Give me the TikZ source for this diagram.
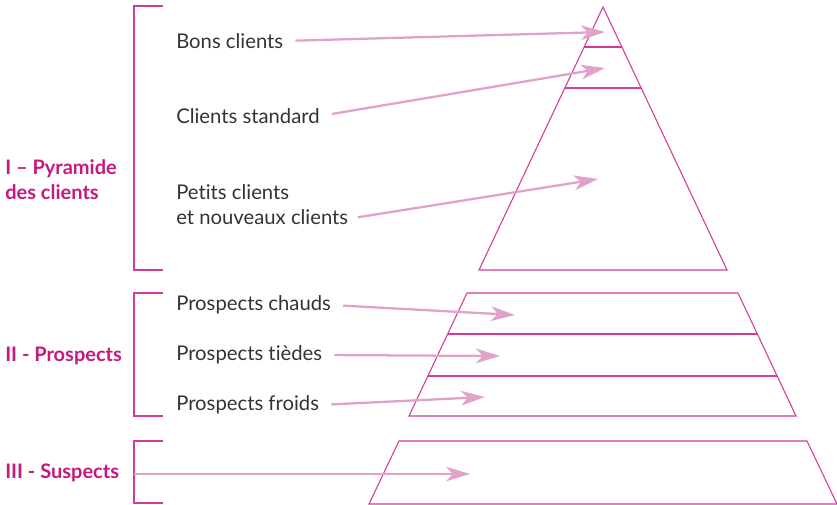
\documentclass[tikz,border=0pt]{standalone}
\usepackage{fontspec}
\setmainfont[Ligatures={NoCommon}]{Lato}
\usetikzlibrary{arrows.meta}
\definecolor{pyrline}{HTML}{D63A98}
\definecolor{arrpink}{HTML}{E0A2C8}
\definecolor{secpink}{HTML}{C8187E}
\definecolor{txtgray}{HTML}{333333}
\begin{document}
\begin{tikzpicture}[x=0.75pt, y=-0.75pt,
    lbl/.style={anchor=west, text=txtgray, inner sep=0pt, align=left,
        font=\fontsize{15.2}{18.75}\selectfont},
    sec/.style={anchor=west, text=secpink, inner sep=0pt, align=left,
        font=\fontsize{15}{18.75}\selectfont\bfseries},
    shp/.style={draw=pyrline, line width=0.8pt},
    arr/.style={draw=arrpink, line width=1.7pt,
        -{Stealth[length=18pt, width=11pt, inset=5pt]}}
]

    \useasboundingbox (0,0) rectangle (837,505);

    % brackets
    \draw[shp] (163,6) -- (134,6) -- (134,270) -- (163,270);
    \draw[shp] (163,293) -- (134,293) -- (134,416) -- (163,416);
    \draw[shp] (163,441) -- (134,441) -- (134,503) -- (163,503);

    % section labels
    \node[sec] (secI) at (5,180) {I -- Pyramide\\des clients};
    \node[sec] (secII) at (5,356) {II - Prospects};
    \node[sec] (secIII) at (5,473) {III - Suspects};

    % pyramid of clients
    \draw[shp] (603,7) -- (727,270) -- (479,270) -- cycle;
    \draw[shp] (584,47) -- (622,47);
    \draw[shp] (565,88) -- (641,88);

    % prospects
    \draw[shp] (467,293) -- (738,293) -- (796,416) -- (409,416) -- cycle;
    \draw[shp] (448,334) -- (757,334);
    \draw[shp] (428,376) -- (777,376);

    % suspects
    \draw[shp] (399,441) -- (807,441) -- (837,504) -- (369,504) -- cycle;

    % labels
    \node[lbl] (bons) at (176,41) {Bons clients};
    \node[lbl] (standard) at (176,116) {Clients standard};
    \node[lbl] (petits) at (176,205) {Petits clients\\et nouveaux clients};
    \node[lbl] (chauds) at (176,305) {Prospects chauds};
    \node[lbl] (tiedes) at (176,355) {Prospects tièdes};
    \node[lbl] (froids) at (176,405) {Prospects froids};

    % arrow targets
    \coordinate (tBons) at (605,32);
    \coordinate (tStandard) at (605,68);
    \coordinate (tPetits) at (598,179);
    \coordinate (tChauds) at (515,315);
    \coordinate (tTiedes) at (500,356);
    \coordinate (tFroids) at (485,397);
    \coordinate (sSuspects) at (134,474);
    \coordinate (tSuspects) at (470,474);

    % arrows
    \draw[arr, shorten <=9pt] (bons.east) -- (tBons);
    \draw[arr, shorten <=9pt] (standard.east) -- (tStandard);
    \draw[arr] ([xshift=7pt,yshift=6pt]petits.south east) -- (tPetits);
    \draw[arr, shorten <=9pt] (chauds.east) -- (tChauds);
    \draw[arr, shorten <=9pt] (tiedes.east) -- (tTiedes);
    \draw[arr, shorten <=9pt] (froids.east) -- (tFroids);
    \draw[arr, line width=0.8pt] (sSuspects) -- (tSuspects);

\end{tikzpicture}
\end{document}
